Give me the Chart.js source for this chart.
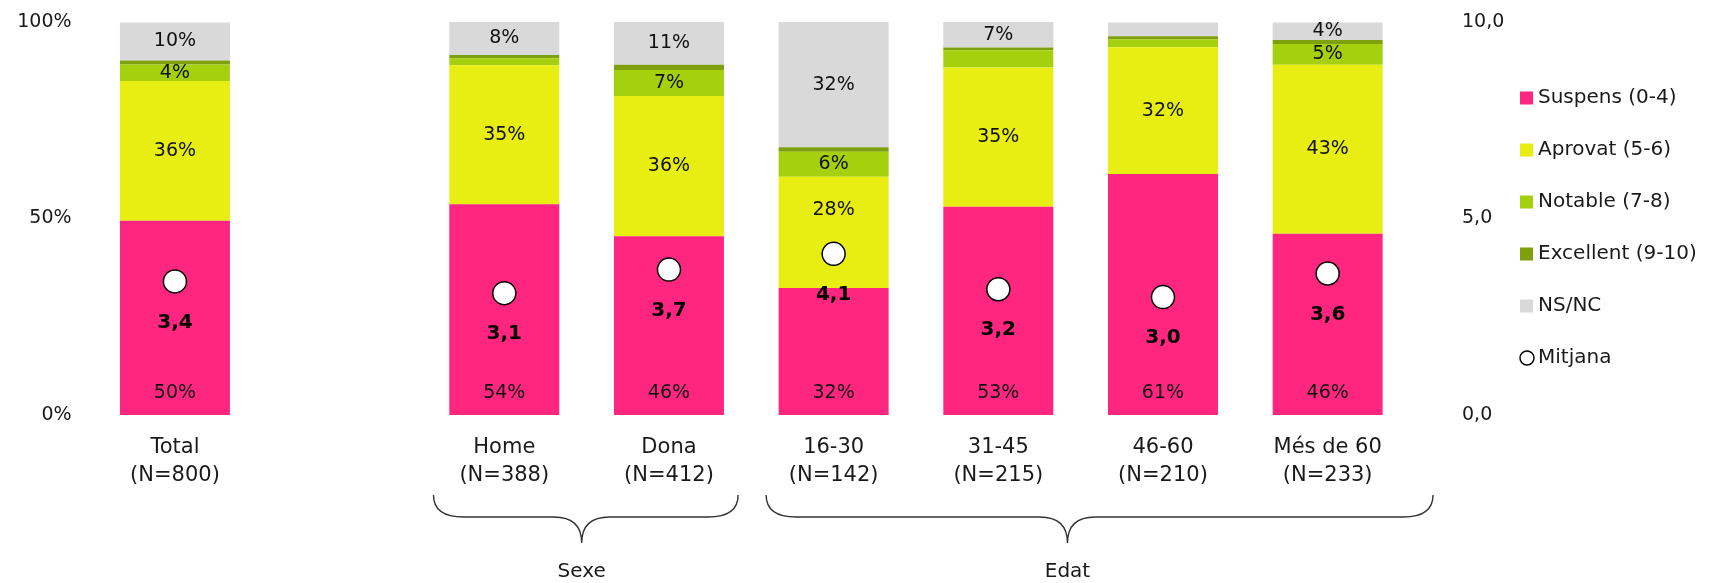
<!DOCTYPE html>
<html>
<head>
<meta charset="utf-8">
<script src="https://cdn.jsdelivr.net/npm/chart.js@4.4.1/dist/chart.umd.min.js"></script>
<style>
  html, body { margin: 0; padding: 0; background: #fff; }
</style>
</head>
<body>
<canvas id="chart" width="1717" height="583"></canvas>
<script>
// Categories (index 1 is the empty slot between Total and the groups)
const categories = ['Total', '', 'Home', 'Dona', '16-30', '31-45', '46-60', 'Més de 60'];
const sampleSizes = ['(N=800)', '', '(N=388)', '(N=412)', '(N=142)', '(N=215)', '(N=210)', '(N=233)'];

// Segment shares (%)
const suspens   = [49.4, null, 53.6, 45.5, 32.3, 53.0, 61.3, 46.1];
const aprovat   = [35.6, null, 35.4, 35.7, 28.3, 35.4, 32.3, 43.0];
const notable   = [4.2, null, 1.8, 6.6, 6.4, 4.4, 2.0, 5.3];
const excellent = [1.0, null, 0.8, 1.3, 1.1, 0.7, 0.8, 1.0];
const nsnc      = [9.7, null, 8.4, 10.9, 31.9, 6.6, 3.5, 4.5];

// Mean score (0-10)
const means = [3.4, null, 3.1, 3.7, 4.1, 3.2, 3.0, 3.6];

// Labels printed inside the segments
const suspensLabels   = ['50%', '', '54%', '46%', '32%', '53%', '61%', '46%'];
const aprovatLabels   = ['36%', '', '35%', '36%', '28%', '35%', '32%', '43%'];
const notableLabels   = ['4%', '', '', '7%', '6%', '', '', '5%'];
const excellentLabels = ['', '', '', '', '', '', '', ''];
const nsncLabels      = ['10%', '', '8%', '11%', '32%', '7%', '', '4%'];

const groupNames = ['Sexe', 'Edat'];

const FONT = 'DejaVu Sans';
Chart.defaults.font.family = FONT;
Chart.defaults.color = '#1a1a1a';

const segmentLabels = [suspensLabels, aprovatLabels, notableLabels, excellentLabels, nsncLabels];

// texts inside bars + mean values
const barLabels = {
  id: 'barLabels',
  afterDatasetsDraw(chart) {
    const ctx = chart.ctx;
    const meanMeta = chart.getDatasetMeta(5);
    ctx.save();
    ctx.textAlign = 'center';
    ctx.textBaseline = 'middle';
    ctx.fillStyle = '#111';
    ctx.font = '19px "' + FONT + '"';
    segmentLabels.forEach((labels, d) => {
      chart.getDatasetMeta(d).data.forEach((bar, i) => {
        if (!labels[i]) return;
        let y = d === 0 ? bar.base - 22 : (bar.y + bar.base) / 2;
        const dot = meanMeta.data[i];
        // move the label above the mean marker when they would overlap
        if (d > 0 && dot && Math.abs(dot.y - y) < 25) y = dot.y - 44;
        ctx.fillText(labels[i], bar.x, y);
      });
    });
    ctx.font = 'bold 20px "' + FONT + '"';
    ctx.fillStyle = '#000';
    meanMeta.data.forEach((pt, i) => {
      if (means[i] == null) return;
      ctx.fillText(means[i].toFixed(1).replace('.', ','), pt.x, pt.y + 41);
    });
    ctx.restore();
  }
};

// curly braces under the group columns
const groupBraces = {
  id: 'groupBraces',
  afterDraw(chart) {
    const ctx = chart.ctx;
    const xs = chart.scales.x;
    const b = chart.chartArea.bottom;
    const spans = [[1.57, 3.42, 2.47], [3.59, 7.64, 5.42]];
    const yTop = b + 80, yMid = b + 102, yTip = b + 128;
    ctx.save();
    ctx.strokeStyle = '#333';
    ctx.lineWidth = 1.4;
    spans.forEach((s, g) => {
      const x0 = xs.getPixelForValue(s[0]);
      const x1 = xs.getPixelForValue(s[1]);
      const tip = xs.getPixelForValue(s[2]);
      ctx.beginPath();
      ctx.moveTo(x0, yTop);
      ctx.quadraticCurveTo(x0, yMid, x0 + 30, yMid);
      ctx.lineTo(tip - 28, yMid);
      ctx.quadraticCurveTo(tip, yMid, tip, yTip);
      ctx.moveTo(x1, yTop);
      ctx.quadraticCurveTo(x1, yMid, x1 - 30, yMid);
      ctx.lineTo(tip + 28, yMid);
      ctx.quadraticCurveTo(tip, yMid, tip, yTip);
      ctx.stroke();
      ctx.fillStyle = '#1a1a1a';
      ctx.font = '20px "' + FONT + '"';
      ctx.textAlign = 'center';
      ctx.textBaseline = 'middle';
      ctx.fillText(groupNames[g], tip, b + 157);
    });
    ctx.restore();
  }
};

// legend on the right
const sideLegend = {
  id: 'sideLegend',
  afterDraw(chart) {
    const ctx = chart.ctx;
    ctx.save();
    ctx.font = '20px "' + FONT + '"';
    ctx.textBaseline = 'middle';
    chart.data.datasets.forEach((ds, i) => {
      const y = 98 + i * 52;
      if (ds.type === 'line') {
        ctx.beginPath();
        ctx.arc(1527, y, 7, 0, Math.PI * 2);
        ctx.fillStyle = '#fff';
        ctx.fill();
        ctx.strokeStyle = '#000';
        ctx.lineWidth = 1.5;
        ctx.stroke();
      } else {
        ctx.fillStyle = ds.backgroundColor;
        ctx.fillRect(1520, y - 6.5, 13, 13);
      }
      ctx.fillStyle = '#1a1a1a';
      ctx.fillText(ds.label, 1538, y);
    });
    ctx.restore();
  }
};

const barDefaults = { yAxisID: 'y', barPercentage: 0.668, categoryPercentage: 1, order: 1, borderWidth: 0 };

new Chart(document.getElementById('chart'), {
  type: 'bar',
  data: {
    labels: categories.map((c, i) => c ? [c, sampleSizes[i]] : ''),
    datasets: [
      { ...barDefaults, label: 'Suspens (0-4)', data: suspens, backgroundColor: '#FF2680' },
      { ...barDefaults, label: 'Aprovat (5-6)', data: aprovat, backgroundColor: '#E8EE12' },
      { ...barDefaults, label: 'Notable (7-8)', data: notable, backgroundColor: '#A4D00E' },
      { ...barDefaults, label: 'Excellent (9-10)', data: excellent, backgroundColor: '#7FA00E' },
      { ...barDefaults, label: 'NS/NC', data: nsnc, backgroundColor: '#D9D9D9' },
      {
        type: 'line',
        label: 'Mitjana',
        data: means,
        yAxisID: 'y2',
        showLine: false,
        order: 0,
        pointRadius: 11.5,
        pointBackgroundColor: '#fff',
        pointBorderColor: '#000',
        pointBorderWidth: 1.5
      }
    ]
  },
  options: {
    responsive: false,
    animation: false,
    layout: { padding: { top: 22, right: 206, left: 0, bottom: 0 } },
    plugins: {
      legend: { display: false },
      tooltip: { enabled: false }
    },
    scales: {
      x: {
        stacked: true,
        grid: { display: false, drawTicks: false },
        border: { display: false },
        ticks: {
          autoSkip: false,
          maxRotation: 0,
          padding: 19,
          color: '#1a1a1a',
          font: { size: 21, lineHeight: 1.33 }
        },
        afterFit(scale) { scale.height = 168; }
      },
      y: {
        stacked: true,
        min: 0,
        max: 100,
        grid: { display: false, drawTicks: false },
        border: { display: false },
        ticks: {
          stepSize: 50,
          padding: 21,
          color: '#1a1a1a',
          font: { size: 19 },
          callback: v => v + '%'
        },
        afterFit(scale) {
          scale.width = 92.6;
          scale.paddingTop = 0;
          scale.paddingBottom = 0;
        }
      },
      y2: {
        position: 'right',
        min: 0,
        max: 10,
        grid: { display: false, drawTicks: false },
        border: { display: false },
        ticks: {
          stepSize: 5,
          padding: 52,
          color: '#1a1a1a',
          font: { size: 19 },
          callback: v => v.toFixed(1).replace('.', ',')
        },
        afterFit(scale) {
          scale.width = 101;
          scale.paddingTop = 0;
          scale.paddingBottom = 0;
        }
      }
    }
  },
  plugins: [barLabels, groupBraces, sideLegend]
});
</script>
</body>
</html>
